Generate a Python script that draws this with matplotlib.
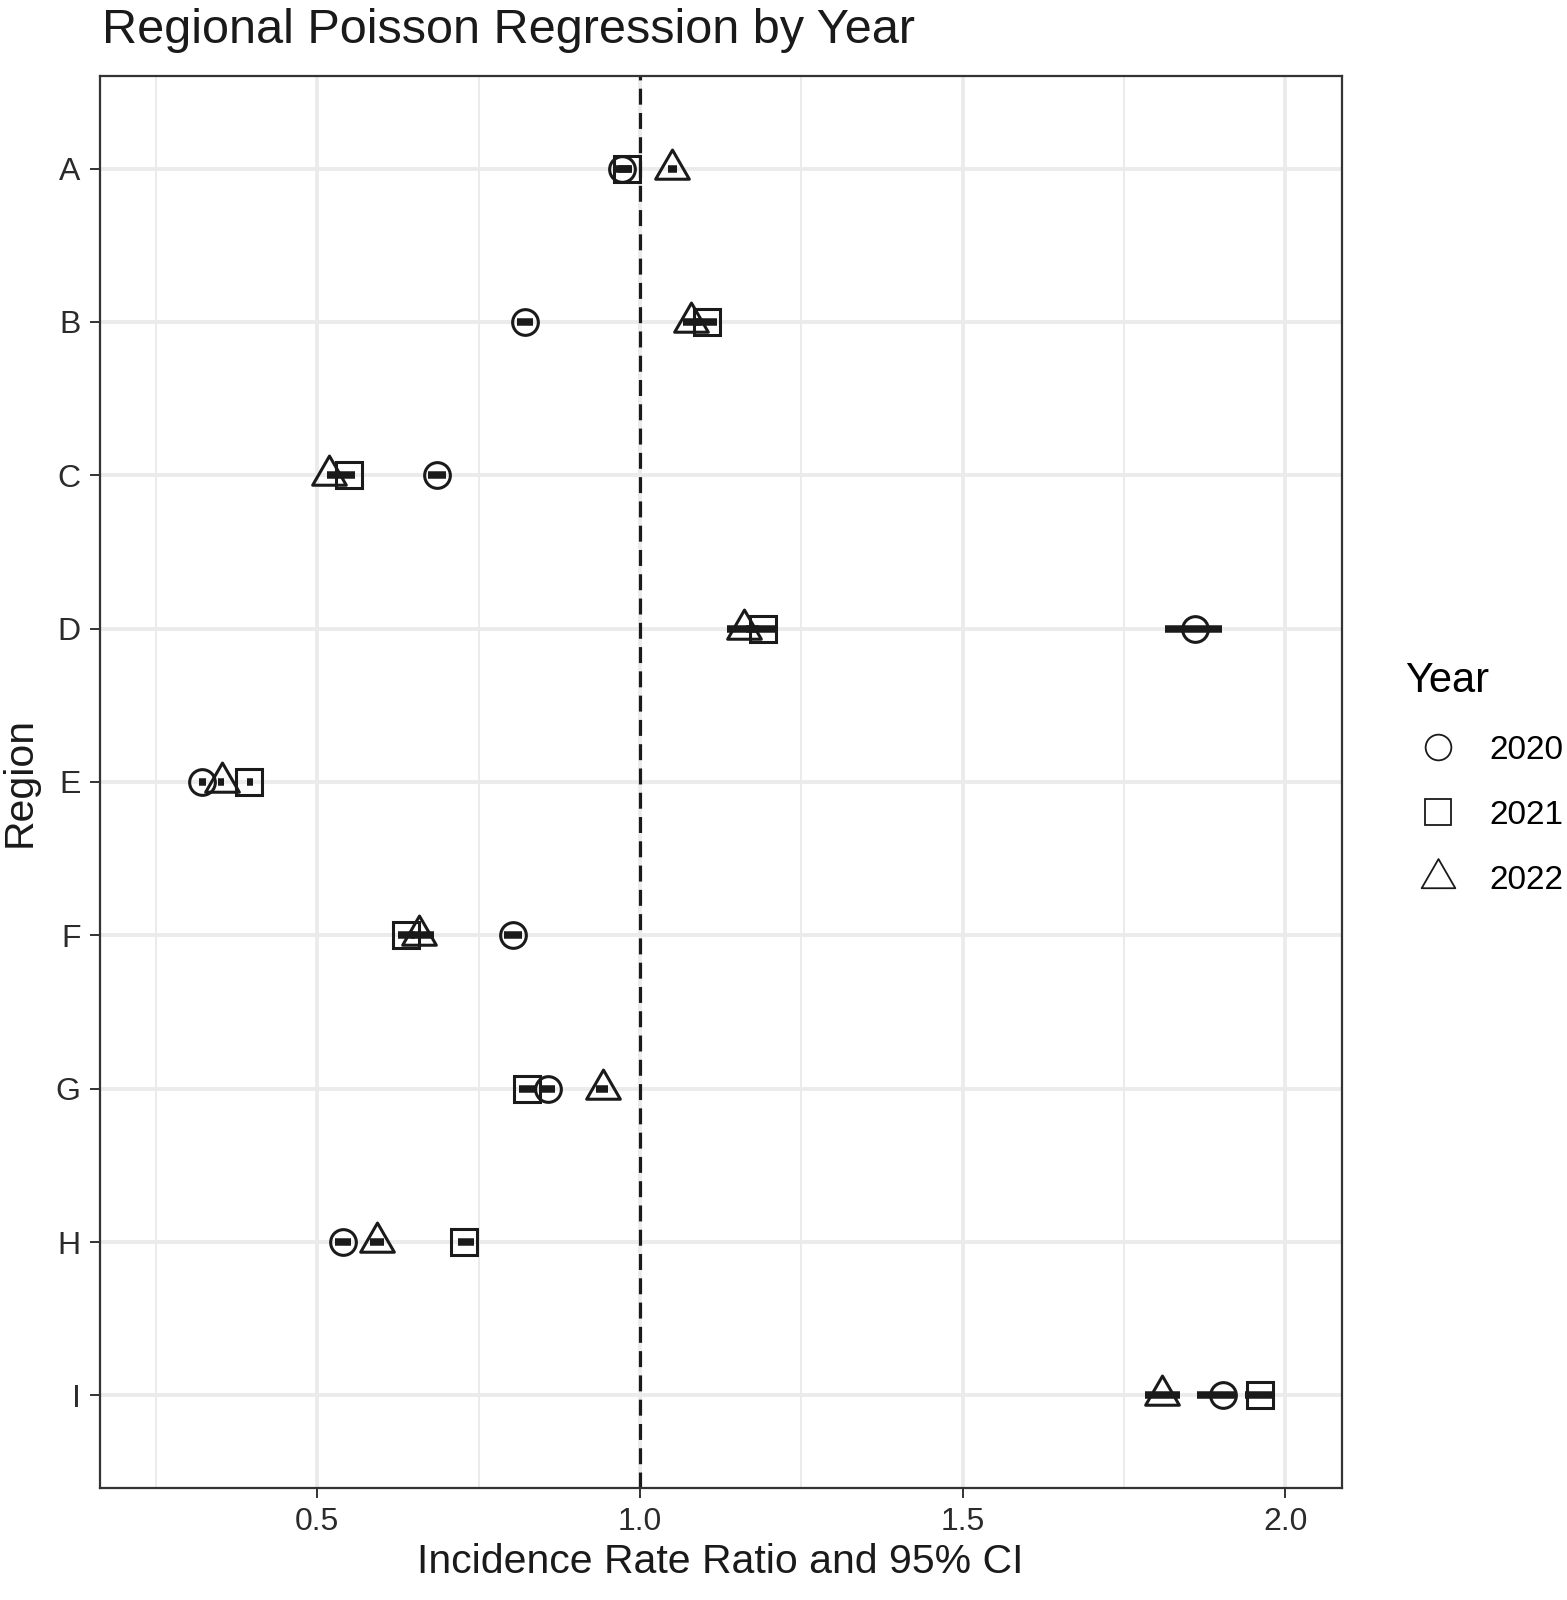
import numpy as np
import matplotlib.pyplot as plt
from matplotlib.path import Path
from matplotlib.lines import Line2D

plt.rcParams['font.family'] = ['Liberation Sans', 'DejaVu Sans']

# ---- data ----
regions = ['A', 'B', 'C', 'D', 'E', 'F', 'G', 'H', 'I']
years = ['2020', '2021', '2022']

irr_2020 = [0.972, 0.822, 0.686, 1.860, 0.321, 0.804, 0.857, 0.540, 1.903]
lo_2020 = [0.958, 0.810, 0.672, 1.813, 0.317, 0.790, 0.845, 0.528, 1.863]
hi_2020 = [0.986, 0.835, 0.700, 1.902, 0.328, 0.818, 0.868, 0.552, 1.925]

irr_2021 = [0.980, 1.104, 0.550, 1.190, 0.395, 0.637, 0.825, 0.727, 1.960]
lo_2021 = [0.966, 1.085, 0.535, 1.165, 0.391, 0.625, 0.813, 0.718, 1.937]
hi_2021 = [0.988, 1.119, 0.558, 1.214, 0.400, 0.652, 0.840, 0.743, 1.984]

irr_2022 = [1.050, 1.079, 0.518, 1.161, 0.352, 0.658, 0.943, 0.593, 1.809]
lo_2022 = [1.043, 1.067, 0.515, 1.135, 0.346, 0.645, 0.932, 0.582, 1.782]
hi_2022 = [1.057, 1.095, 0.535, 1.185, 0.356, 0.681, 0.950, 0.603, 1.837]

x_ticks = [0.5, 1.0, 1.5, 2.0]
x_minor = [0.25, 0.75, 1.25, 1.75]

# equilateral triangle centred on its centroid (like ggplot shape 2)
tri = Path([(-0.5, -0.2887), (0.5, -0.2887), (0.0, 0.5774), (-0.5, -0.2887)],
           [Path.MOVETO, Path.LINETO, Path.LINETO, Path.CLOSEPOLY])

markers = {'2020': ('o', 18.5), '2021': ('s', 18.5), '2022': (tri, 28)}
series = {
    '2020': (irr_2020, lo_2020, hi_2020),
    '2021': (irr_2021, lo_2021, hi_2021),
    '2022': (irr_2022, lo_2022, hi_2022),
}

fig = plt.figure(figsize=(15.67, 16), dpi=100)
ax = fig.add_axes([0.0638, 0.0703, 0.7923, 0.8819])

ypos = np.arange(len(regions))

# grid
for v in x_minor:
    ax.axvline(v, color='#EBEBEB', lw=1.4, zorder=0)
for v in x_ticks:
    ax.axvline(v, color='#EBEBEB', lw=2.8, zorder=0)
for y in ypos:
    ax.axhline(y, color='#EBEBEB', lw=2.8, zorder=0)

ax.axvline(1.0, color='#1a1a1a', lw=2.3, ls=(0, (5, 2.6)), zorder=1)

for yr in years:
    irr, lo, hi = series[yr]
    m, ms = markers[yr]
    ax.plot(irr, ypos, ls='none', marker=m, ms=ms, mfc='none',
            mec='#1a1a1a', mew=2.2, zorder=3)
    lc = ax.hlines(ypos, lo, hi, color='#1a1a1a', lw=5.4, zorder=4)
    lc.set_capstyle('butt')

ax.set_xlim(0.1635, 2.087)
ax.set_ylim(len(regions) - 0.4, -0.6)
ax.set_xticks(x_ticks)
ax.set_xticklabels(['0.5', '1.0', '1.5', '2.0'])
ax.set_yticks(ypos)
ax.set_yticklabels(regions)
ax.tick_params(axis='both', length=7, width=1.4, color='#333333',
               labelsize=23, labelcolor='#2b2b2b', pad=7)

for sp in ax.spines.values():
    sp.set_color('#333333')
    sp.set_linewidth(1.6)

ax.set_xlabel('Incidence Rate Ratio and 95% CI', fontsize=29.5, color='#1a1a1a', labelpad=4)
ax.set_ylabel('Region', fontsize=29.5, color='#1a1a1a', labelpad=12)
fig.text(0.065, 0.981, 'Regional Poisson Regression by Year', fontsize=35,
         color='#1a1a1a', ha='left', va='center')

handles = [Line2D([], [], ls='none', marker=markers[yr][0], ms=markers[yr][1],
                  mfc='none', mec='#1a1a1a', mew=1.3) for yr in years]
leg = fig.legend(handles, years, loc='upper left', bbox_to_anchor=(0.888, 0.595),
                 frameon=False, fontsize=24, title='Year', title_fontsize=30,
                 labelspacing=1.03, handletextpad=0.55, borderaxespad=0)
leg._legend_box.align = 'left'
leg._legend_box.sep = 24

fig.savefig('out.png', dpi=100)
